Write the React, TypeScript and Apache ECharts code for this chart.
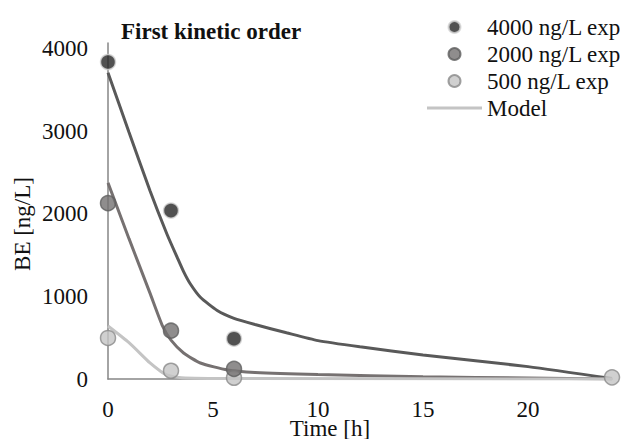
import React, { useEffect, useRef } from "react";
import * as echarts from "echarts";

const exp4000: [number, number][] = [[0, 3840], [3, 2040], [6, 488]];
const exp2000: [number, number][] = [[0, 2130], [3, 585], [6, 122]];
const exp500: [number, number][] = [[0, 497], [3, 100], [6, 15], [24, 20]];

const model4000: [number, number][] = [
  [0, 3710], [1, 2990], [2, 2280], [2.8, 1760], [3.3, 1470], [3.6, 1300], [3.9, 1160],
  [4.4, 990], [5.2, 830], [6, 735], [7, 660], [8.5, 560], [10, 465], [12, 390],
  [15, 291], [20, 150], [24, 5],
];
const model2000: [number, number][] = [
  [0, 2376], [1, 1700], [2, 1040], [2.6, 640], [3, 470], [3.6, 315], [4.4, 194],
  [5.7, 109], [7, 80], [10, 55], [15, 28], [20, 12], [24, 0],
];
const model500: [number, number][] = [
  [0, 642], [1, 440], [2, 194], [2.5, 95], [2.8, 50], [3.5, 15], [6, 5], [24, 0],
];

const xTicks = [0, 5, 10, 15, 20];
const yTicks = [0, 1000, 2000, 3000, 4000];

const FONT = "'Liberation Serif', 'Times New Roman', serif";

export default function App() {
  const ref = useRef<HTMLDivElement>(null);
  useEffect(() => {
    if (!ref.current) return;
    const chart = echarts.init(ref.current, null, { renderer: "svg" });
    const axisColor = "#868686";
    chart.setOption({
      animation: false,
      backgroundColor: "#ffffff",
      title: {
        text: "First kinetic order",
        left: 116,
        top: 15,
        textStyle: { fontFamily: FONT, fontWeight: "bold", fontSize: 23, color: "#111" },
      },
      legend: {
        data: [
          "4000 ng/L exp",
          "2000 ng/L exp",
          "500 ng/L exp",
          { name: "Model", icon: "path://M0,0H55V3H0Z" },
        ],
        orient: "vertical",
        left: 422,
        top: 10,
        itemWidth: 55,
        itemHeight: 12,
        itemGap: 3,
        textStyle: { fontFamily: FONT, fontSize: 23, color: "#111", lineHeight: 24 },
      },
      grid: { left: 108, right: 12, top: 43, bottom: 60 },
      xAxis: {
        type: "value",
        min: 0,
        max: 24,
        interval: 5,
        axisLine: { show: true, lineStyle: { color: axisColor, width: 1.5 } },
        axisTick: { show: false },
        splitLine: { show: false },
        axisLabel: {
          margin: 19,
          fontFamily: FONT,
          fontSize: 23,
          color: "#111",
          showMaxLabel: false,
          formatter: (v: number) => (xTicks.includes(v) ? String(v) : ""),
        },
      },
      yAxis: {
        type: "value",
        min: 0,
        max: 4070,
        interval: 1000,
        axisLine: { show: true, lineStyle: { color: axisColor, width: 1.5 } },
        axisTick: { show: false },
        splitLine: { show: false },
        axisLabel: {
          margin: 20,
          fontFamily: FONT,
          fontSize: 23,
          color: "#111",
          showMaxLabel: false,
          formatter: (v: number) => (yTicks.includes(v) ? String(v) : ""),
        },
      },
      graphic: [
        {
          type: "text",
          x: 330,
          y: 428,
          style: {
            text: "Time [h]",
            fontFamily: FONT,
            fontSize: 23,
            fill: "#111",
            align: "center",
            verticalAlign: "middle",
          },
        },
        {
          type: "text",
          x: 22,
          y: 224,
          rotation: Math.PI / 2,
          style: {
            text: "BE [ng/L]",
            fontFamily: FONT,
            fontSize: 23,
            fill: "#111",
            align: "center",
            verticalAlign: "middle",
          },
        },
      ],
      series: [
        {
          name: "Model 4000",
          type: "line",
          data: model4000,
          smooth: 0.2,
          symbol: "none",
          lineStyle: { color: "#595959", width: 3 },
          itemStyle: { color: "#595959" },
          z: 2,
        },
        {
          name: "Model 2000",
          type: "line",
          data: model2000,
          smooth: 0.2,
          symbol: "none",
          lineStyle: { color: "#767171", width: 3 },
          itemStyle: { color: "#767171" },
          z: 2,
        },
        {
          name: "Model",
          type: "line",
          data: model500,
          smooth: 0.2,
          symbol: "none",
          lineStyle: { color: "#c4c4c4", width: 3 },
          itemStyle: { color: "#c4c4c4" },
          z: 2,
        },
        {
          name: "500 ng/L exp",
          type: "scatter",
          data: exp500,
          symbolSize: 15,
          itemStyle: { color: "#c4c4c4", borderColor: "#8a8a8a", borderWidth: 1.5 },
          z: 3,
        },
        {
          name: "2000 ng/L exp",
          type: "scatter",
          data: exp2000,
          symbolSize: 15,
          itemStyle: { color: "#737070", borderColor: "#5e5e5e", borderWidth: 1.5 },
          z: 4,
        },
        {
          name: "4000 ng/L exp",
          type: "scatter",
          data: exp4000,
          symbolSize: 15,
          itemStyle: { color: "#262626", borderColor: "#d4d4d4", borderWidth: 1.5 },
          z: 5,
        },
      ],
    });
    return () => chart.dispose();
  }, []);
  return (
    <div
      ref={ref}
      style={{ position: "fixed", left: 0, top: 0, width: 624, height: 439 }}
    />
  );
}
